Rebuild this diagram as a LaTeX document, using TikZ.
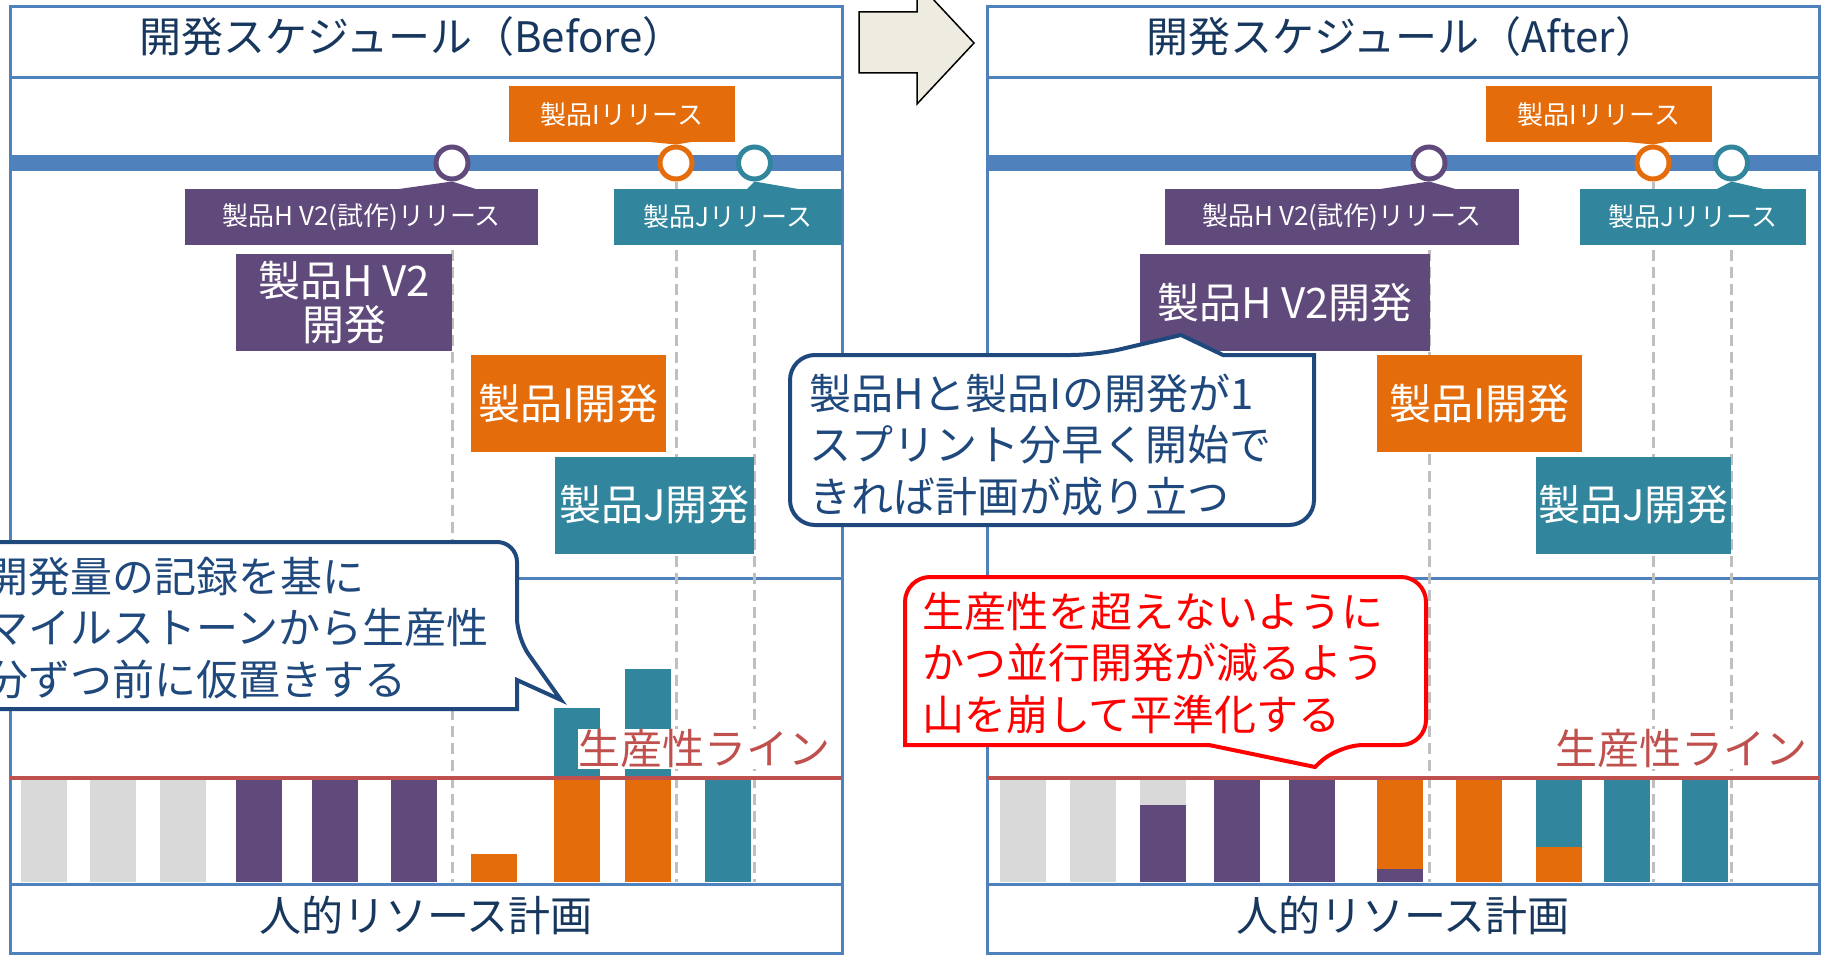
\documentclass[tikz,border=0pt]{standalone}
\usepackage{fontspec}
\setmainfont{Noto Sans CJK JP}
\usetikzlibrary{positioning}
\definecolor{frameblue}{HTML}{4F81BD}
\definecolor{titlenavy}{HTML}{17375E}
\definecolor{memonavy}{HTML}{1F497D}
\definecolor{prodH}{HTML}{604A7B}
\definecolor{prodI}{HTML}{E46C0A}
\definecolor{prodJ}{HTML}{31859C}
\definecolor{pastgray}{HTML}{D9D9D9}
\definecolor{guidegray}{HTML}{BFBFBF}
\definecolor{limitred}{HTML}{C0504D}
\definecolor{arrowfill}{HTML}{EEECE1}
\tikzset{font=\fontsize{42}{51.5}\selectfont}
\tikzset{every node/.append style={inner sep=0pt}}
\tikzset{
  panelframe/.style={draw=frameblue,line width=3pt},
  timeline/.style={draw=frameblue,line width=16pt},
  milestone/.style={circle,draw=#1,line width=5pt,fill=white,minimum size=32pt},
  guide/.style={draw=guidegray,line width=3pt,dash pattern=on 11pt off 6pt},
  relbox/.style={fill=#1,text=white,font=\fontsize{26}{30}\selectfont,minimum height=56pt},
  devbox/.style={fill=#1,text=white,minimum height=97pt,align=center},
  memo/.style={draw=memonavy,fill=white,line width=4pt,line join=miter},
  memotext/.style={text=memonavy,align=left,anchor=west},
}

\begin{document}
\begin{tikzpicture}[x=1pt,y=-1pt]
  \useasboundingbox (0,0) rectangle (1823,955);
  \foreach \px/\nm/\tx in {10/Before/402,987/After/415}{
    \draw[panelframe] (\px,7) rectangle (\px+832,953);
    \draw[panelframe] (\px,78) -- (\px+832,78);
    \draw[panelframe] (\px,578) -- (\px+832,578);
    \draw[panelframe] (\px,884) -- (\px+832,884);
    \draw[timeline] (\px,163) -- (\px+832,163);
    \node[text=titlenavy] (title\nm) at (\px+\tx,37) {開発スケジュール（\nm）};
    \node[text=titlenavy] (plan\nm) at (\px+416,915) {人的リソース計画};
    \foreach \mx/\mn in {442/H,666/I,744.5/J}{
      \node[milestone=prod\mn] (ms\mn\nm) at (\px+\mx,163) {};
      \coordinate (foot\mn\nm) at (\px+\mx,882);
      \draw[guide] (ms\mn\nm) -- (foot\mn\nm);
    }
  }
  % resource bars
  \foreach \x/\ytop/\col in {21/780/pastgray,90/780/pastgray,160/780/pastgray,
      236/780/prodH,312/780/prodH,391/780/prodH,471/854/prodI,
      554/708/prodJ,554/780/prodI,625/669/prodJ,625/780/prodI,705/780/prodJ,
      1000/780/pastgray,1070/780/pastgray,1140/780/pastgray,1140/805/prodH,
      1214/780/prodH,1289/780/prodH,1377/780/prodI,1377/869/prodH,
      1456/780/prodI,1536/780/prodJ,1536/847/prodI,1604/780/prodJ,1682/780/prodJ}
    \fill[\col] (\x,\ytop) rectangle (\x+46,882);
  \foreach \px/\nm in {10/Before,987/After}{
    \draw[limitred,line width=4pt] (\px,778) -- (\px+832,778);
    \node[text=limitred,fill=white,inner sep=1pt,anchor=east] (limit\nm) at (\px+822,749) {生産性ライン};
  }

  \node[relbox=prodH,minimum width=353pt] (relHBefore) at (361.5,217) {製品H V2(試作)リリース};
  \node[relbox=prodI,minimum width=226pt] (relIBefore) at (622,114.5) {製品Iリリース};
  \node[relbox=prodJ,minimum width=228pt] (relJBefore) at (728,217) {製品Jリリース};
  \node[relbox=prodH,minimum width=354pt] (relHAfter) at (1342,217) {製品H V2(試作)リリース};
  \node[relbox=prodI,minimum width=226pt] (relIAfter) at (1599,114.5) {製品Iリリース};
  \node[relbox=prodJ,minimum width=226pt] (relJAfter) at (1693,217) {製品Jリリース};
  \fill[prodH] (392,190) -- (msHBefore.south) -- (479,190) -- cycle;
  \fill[prodI] (640,141) -- (msIBefore.north) -- (697,141) -- cycle;
  \fill[prodJ] (746,190) -- (msJBefore.south) -- (804,190) -- cycle;
  \fill[prodH] (1374,190) -- (msHAfter.south) -- (1459,190) -- cycle;
  \fill[prodI] (1617,141) -- (msIAfter.north) -- (1671,141) -- cycle;
  \fill[prodJ] (1715,190) -- (msJAfter.south) -- (1768,190) -- cycle;

  \node[devbox=prodH,minimum width=216pt,font=\fontsize{42}{44}\selectfont] (devHBefore) at (344,302.5) {製品H V2\\開発};
  \node[devbox=prodI,minimum width=195pt] (devIBefore) at (568.5,403.5) {製品I開発};
  \node[devbox=prodJ,minimum width=199pt] (devJBefore) at (654.5,505) {製品J開発};
  \node[devbox=prodH,minimum width=290pt] (devHAfter) at (1285,302.5) {製品H V2開発};
  \node[devbox=prodI,minimum width=205pt] (devIAfter) at (1479.5,403.5) {製品I開発};
  \node[devbox=prodJ,minimum width=195pt] (devJAfter) at (1633.5,505) {製品J開発};

  \draw[memo] (-40,542) [rounded corners=20pt] -- (517,542) -- (517,638) [sharp corners] -- (561,700) -- (517,680) -- (517,709) [rounded corners=20pt] -- (-40,709);
  \node[memotext] (memoBefore) at (-14,628) {開発量の記録を基に\\マイルストーンから生産性\\分ずつ前に仮置きする};
  \draw[memo] (790,440) [rounded corners=25pt] -- (790,355) -- (1096,355) [sharp corners] -- (1181,335) -- (1223,355) -- (1314,355) [rounded corners=25pt] -- (1314,525) -- (790,525) -- cycle;
  \node[memotext] (memoAfter) at (809,445) {製品Hと製品Iの開発が1\\スプリント分早く開始で\\きれば計画が成り立つ};
  \draw[memo,draw=red] (905,660) [rounded corners=25pt] -- (905,577) -- (1426,577) -- (1426,745) -- (1338,745) [sharp corners] -- (1315,767) -- (1209,745) -- (905,745) [rounded corners=25pt] -- cycle;
  \node[memotext,text=red] (levelAfter) at (922,663) {生産性を超えないように\\かつ並行開発が減るよう\\山を崩して平準化する};

  \draw[fill=arrowfill,line width=1.5pt,line join=miter] (859,12) -- (917,12) -- (917,-18) -- (974,43) -- (917,104) -- (917,73) -- (859,73) -- cycle;
\end{tikzpicture}
\end{document}
